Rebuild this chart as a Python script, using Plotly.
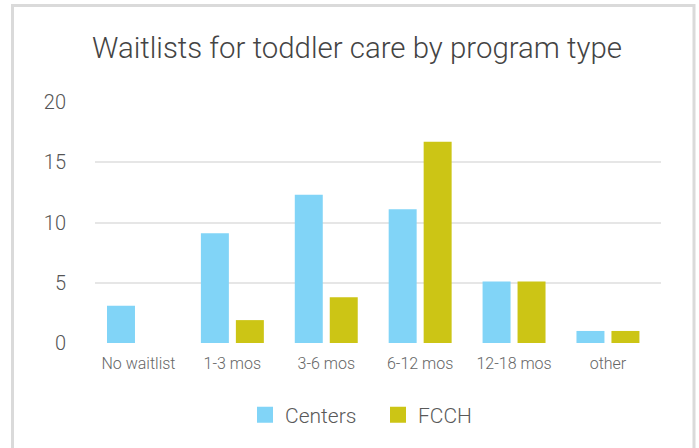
import plotly.graph_objects as go

categories = ["No waitlist", "1-3 mos", "3-6 mos", "6-12 mos", "12-18 mos", "other"]
centers = [3.1, 9.1, 12.3, 11.1, 5.1, 1.0]
fcch = [0, 1.9, 3.8, 16.7, 5.1, 1.0]
series_names = ["Centers", "FCCH"]
colors = ["#81D4F7", "#CCC515"]
y_ticks = [0, 5, 10, 15, 20]

W, H = 699, 448
L, R, T, B = 95, 38, 102, 105
pw, ph = W - L - R, H - T - B

def px_x(px):
    return (px - L) / pw

def px_y(py):
    return (H - B - py) / ph

fig = go.Figure()
for name, vals, col in zip(series_names, [centers, fcch], colors):
    fig.add_trace(go.Bar(x=categories, y=vals, name=name, marker_color=col,
                         marker_line_width=0, showlegend=False))
    fig.add_trace(go.Scatter(x=[None], y=[None], mode="markers", name=name,
                             marker=dict(symbol="square", size=18, color=col),
                             showlegend=True))

fig.update_layout(
    width=W, height=H,
    margin=dict(l=L, r=R, t=T, b=B),
    paper_bgcolor="white", plot_bgcolor="white",
    barmode="group", bargap=0.255, bargroupgap=0.2,
    title=dict(text="Waitlists for toddler care by program type",
               x=px_x(357), xref="paper", xanchor="center",
               y=1 - 48 / H, yanchor="middle",
               font=dict(family="Roboto", size=29.4, color="#444444", weight=300)),
    font=dict(family="Roboto", color="#595959"),
    legend=dict(orientation="h", x=px_x(378), xanchor="center",
                y=px_y(415), yanchor="middle",
                font=dict(size=21, color="#595959", weight=300),
                itemwidth=30, tracegroupgap=0,
                entrywidth=88, entrywidthmode="pixels"),
    xaxis=dict(showgrid=False, showline=False, ticks="",
               range=[-0.463, 5.565],
               tickfont=dict(size=16, color="#666666", weight=300),
               ticklabelstandoff=9),
    yaxis=dict(range=[0, 20], tickvals=y_ticks, showgrid=True,
               gridcolor="#e6e6e6", gridwidth=2, zeroline=False,
               showline=False, ticks="",
               tickfont=dict(size=20, color="#555555", weight=300),
               ticklabelstandoff=28),
    shapes=[dict(type="rect", xref="paper", yref="paper",
                 x0=px_x(12.5), x1=px_x(694), y0=px_y(470), y1=px_y(5.5),
                 line=dict(color="#dadada", width=3), layer="below")],
)

fig.write_html("out.html", config={"displayModeBar": False},
               post_script="document.body.style.margin='0';document.body.style.padding='0';")
